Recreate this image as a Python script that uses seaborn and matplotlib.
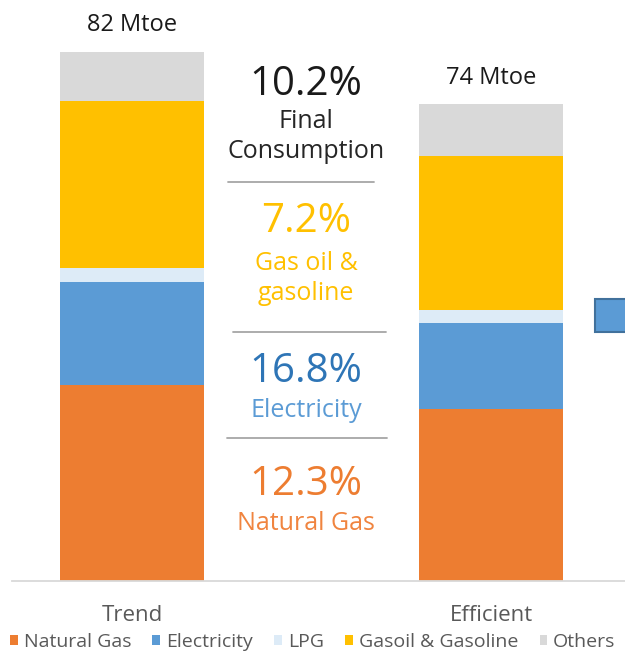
import matplotlib
matplotlib.use("Agg")
import matplotlib.pyplot as plt
from matplotlib.patches import Patch, Rectangle
from matplotlib.lines import Line2D
import numpy as np
import seaborn as sns

# data (Mtoe)
scenarios = ["Trend", "Efficient"]
total_labels = ["82 Mtoe", "74 Mtoe"]
sources = ["Natural Gas", "Electricity", "LPG", "Gasoil & Gasoline", "Others"]
natural_gas = [30.4, 26.7]
electricity = [16.0, 13.3]
lpg = [2.2, 2.0]
gasoil = [25.8, 23.9]
others = [7.6, 8.0]
colors = ["#ED7D31", "#5B9BD5", "#DDEBF7", "#FFC000", "#D9D9D9"]

# savings shown in the middle column
savings = ["10.2%", "7.2%", "16.8%", "12.3%"]
savings_labels = ["Final\nConsumption", "Gas oil &\ngasoline", "Electricity", "Natural Gas"]

sns.set_theme(style="white")
plt.rcParams["font.family"] = ["Open Sans", "DejaVu Sans"]

W, H = 625, 653
fig = plt.figure(figsize=(W / 100, H / 100), dpi=100)
ax = fig.add_axes([12 / W, (H - 581) / H, 613 / W, 581 / H])

layers = [natural_gas, electricity, lpg, gasoil, others]
bottom = np.zeros(len(scenarios))
for vals, col in zip(layers, colors):
    sns.barplot(x=scenarios, y=vals, bottom=bottom, color=col, width=0.401,
                linewidth=0, saturation=1, ax=ax)
    bottom = bottom + np.array(vals)

ax.set_xlim(-0.334, 1.373)
ax.set_ylim(0, 90.1)
ax.set_yticks([])
for s in ["left", "right", "top"]:
    ax.spines[s].set_visible(False)
ax.spines["bottom"].set_color("#D9D9D9")
ax.spines["bottom"].set_linewidth(1.3)
ax.tick_params(axis="x", length=0, pad=17, labelsize=16, labelcolor="#595959")
ax.set_xlabel("")

for i, lab in enumerate(total_labels):
    ax.annotate(lab, xy=(i, bottom[i]), xytext=(0, 15), textcoords="offset points",
                ha="center", va="baseline", fontsize=17, color="#1a1a1a")

# middle column
cx = 306 / W
text_cols = [("#1a1a1a", "#262626"), ("#FFC000", "#FFC000"),
             ("#2E75B6", "#5B9BD5"), ("#ED7D31", "#F0843F")]
pct_base = [95, 232, 382, 495]
lab_base = [128, 270, 417, 530]
for pct, lab, (c1, c2), yb, yl in zip(savings, savings_labels, text_cols, pct_base, lab_base):
    fig.text(cx, 1 - yb / H, pct, ha="center", va="baseline", fontsize=29, color=c1)
    lines = lab.split("\n")
    for k, ln in enumerate(lines):
        fig.text(cx, 1 - (yl + 30 * k) / H, ln, ha="center", va="baseline",
                 fontsize=18, color=c2)

for y, x0, x1 in [(182, 228, 374), (332, 233, 386), (438, 227, 387)]:
    fig.add_artist(Line2D([x0 / W, x1 / W], [1 - y / H, 1 - y / H],
                          transform=fig.transFigure, color="#A6A6A6", lw=1.3))

# partial shape from neighbouring chart
fig.add_artist(Rectangle((595 / W, 1 - 332 / H), 40 / W, 33 / H, transform=fig.transFigure,
                         facecolor="#5B9BD5", edgecolor="#41719C", lw=1.5))

handles = [Patch(facecolor=c, edgecolor="none") for c in colors]
fig.legend(handles, sources, loc="lower left", bbox_to_anchor=(8 / W, 0), ncol=5,
           frameon=False, fontsize=14, labelcolor="#595959", handlelength=0.4,
           handleheight=0.4, handletextpad=0.3, columnspacing=1.1, borderpad=0.1,
           borderaxespad=0)

fig.savefig("out.png", dpi=100)
